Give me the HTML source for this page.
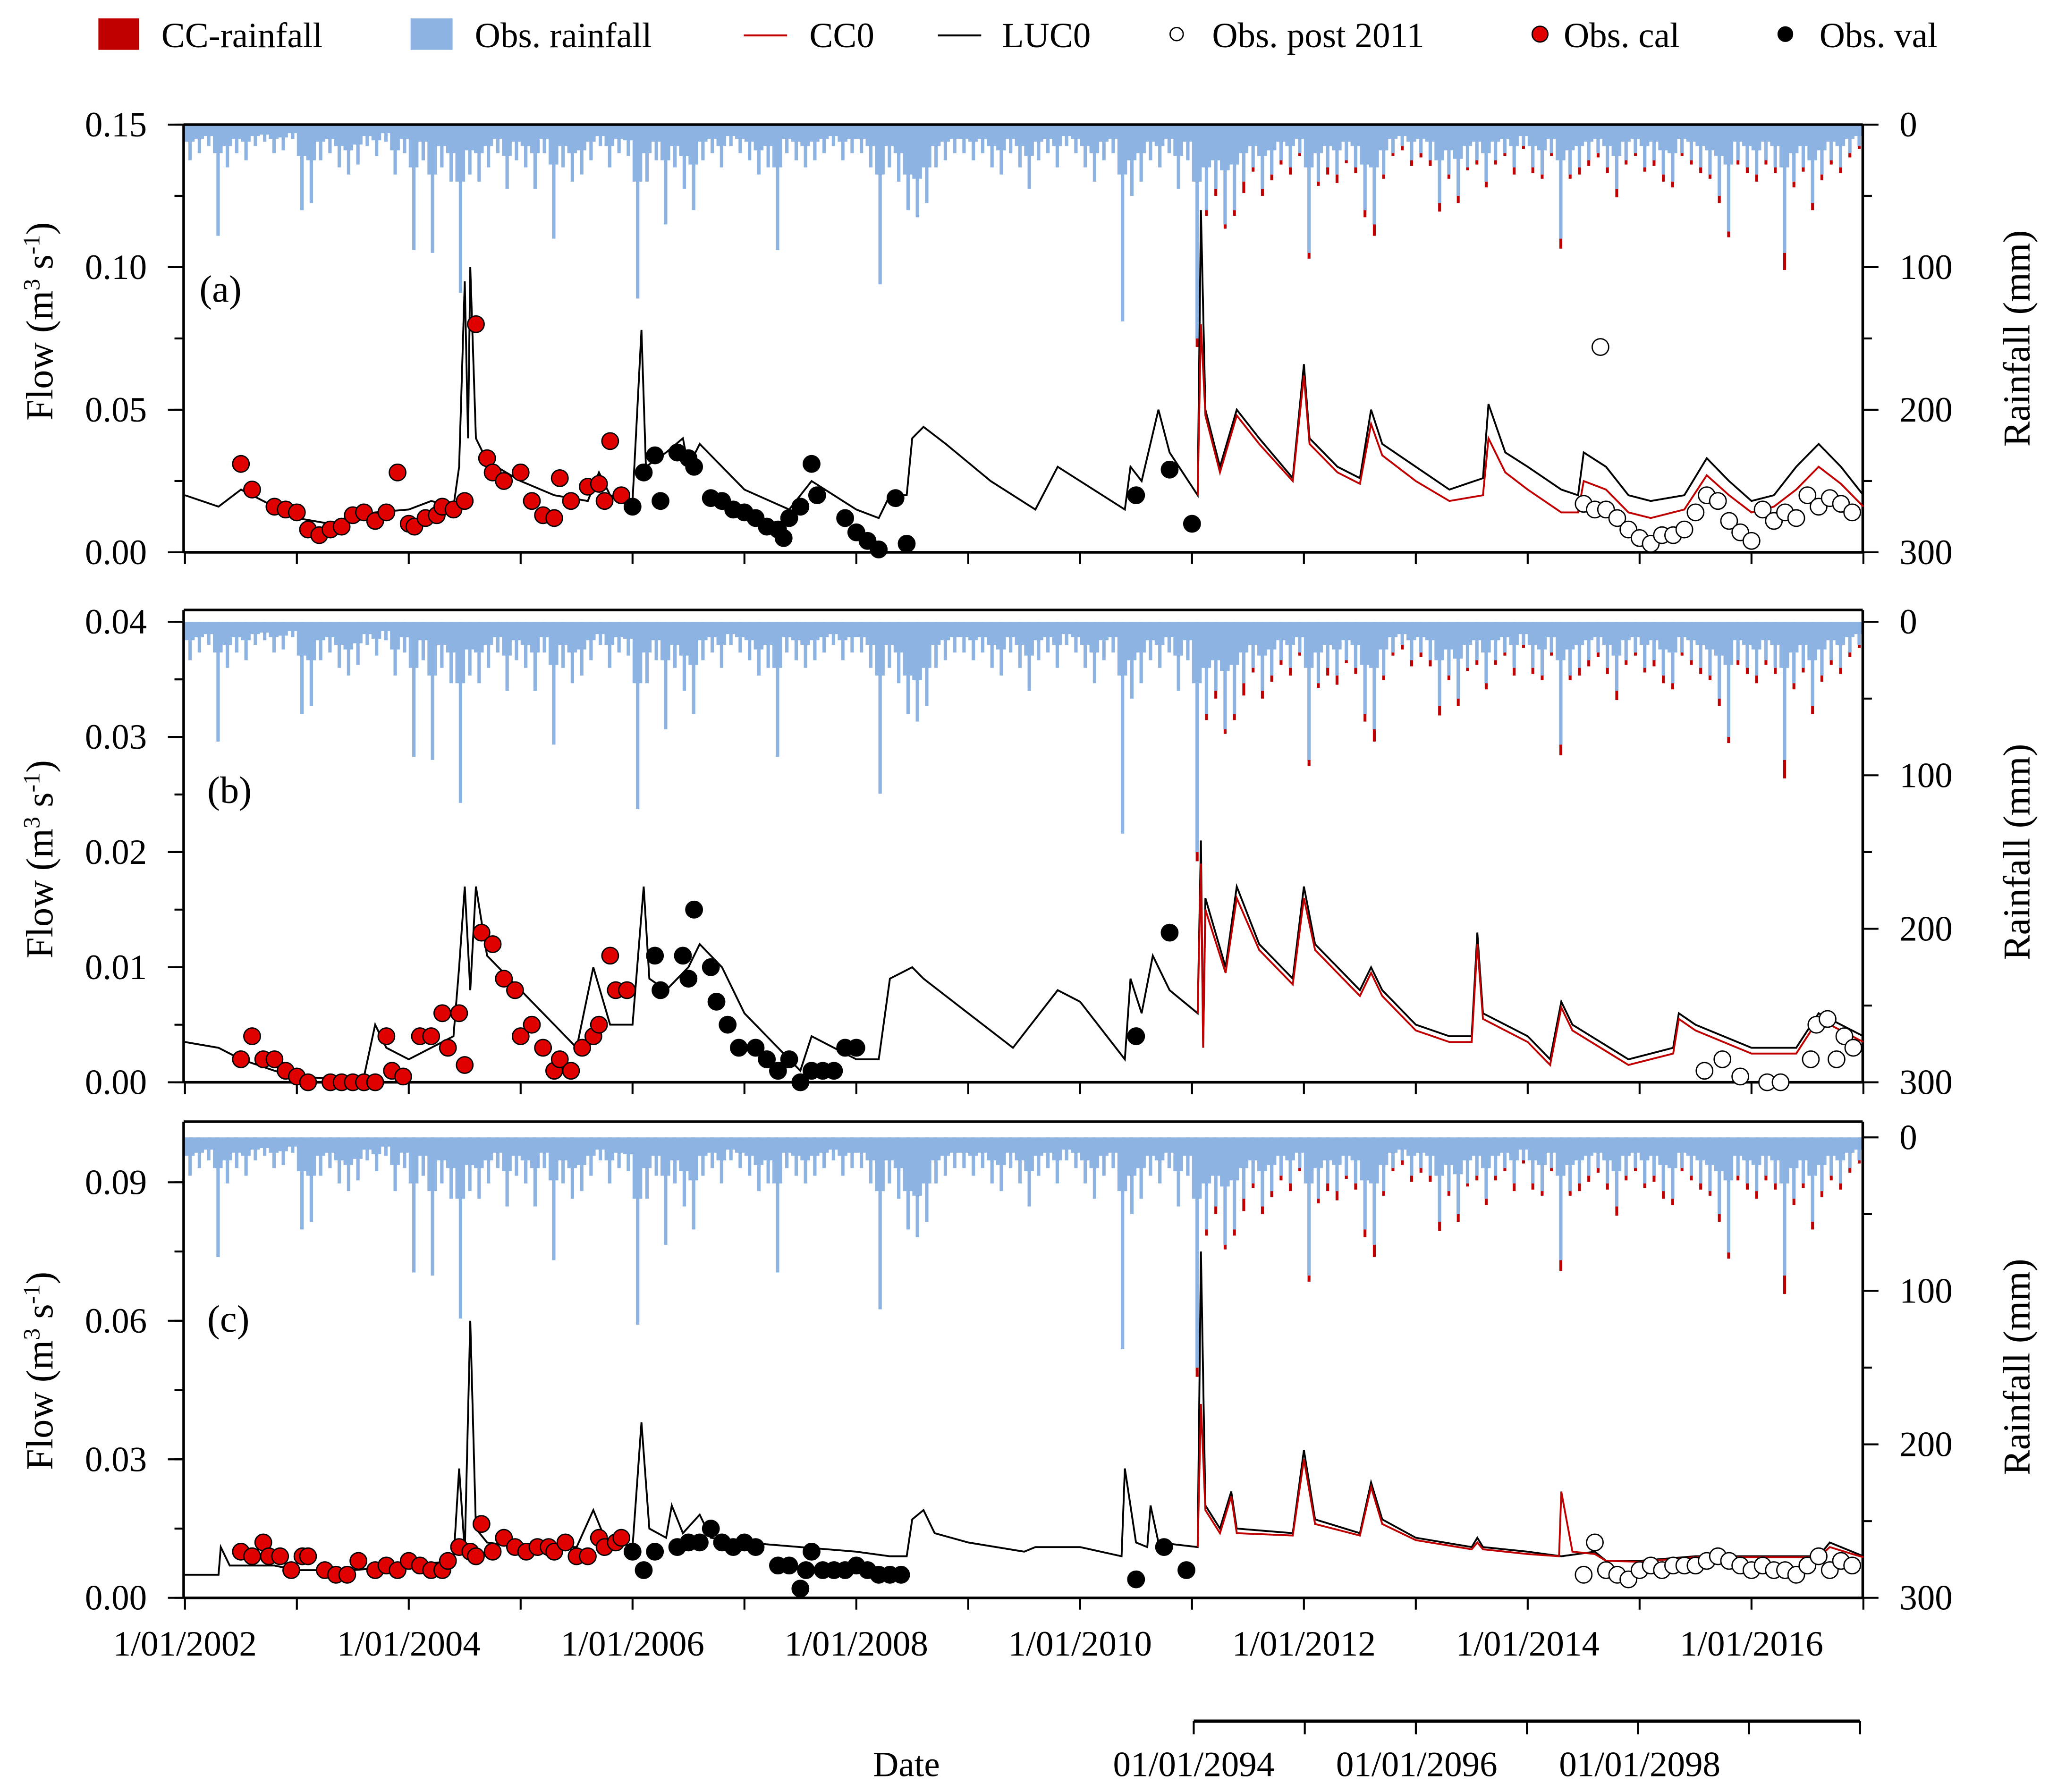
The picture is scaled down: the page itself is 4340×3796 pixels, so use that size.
<!DOCTYPE html>
<html><head><meta charset="utf-8"><style>
html,body{margin:0;padding:0;background:#fff}
svg{display:block}
text{font-family:"Liberation Serif",serif;fill:#000}
</style></head><body>
<svg id="chart" xmlns="http://www.w3.org/2000/svg" width="4340" height="3796" viewBox="0 0 1562 1366" preserveAspectRatio="none">
<g id="legend">
 <rect x="75" y="14" width="31" height="24" fill="#c00000"/>
 <text x="123" y="36" font-size="27">CC-rainfall</text>
 <rect x="313" y="14" width="32" height="24" fill="#8db3e2"/>
 <text x="362" y="36" font-size="27">Obs. rainfall</text>
 <line x1="567" y1="27" x2="600" y2="27" stroke="#c00000" stroke-width="1.5"/>
 <text x="617" y="36" font-size="27">CC0</text>
 <line x1="715" y1="27" x2="748" y2="27" stroke="#000" stroke-width="1.5"/>
 <text x="764" y="36" font-size="27">LUC0</text>
 <circle cx="897" cy="26" r="5" fill="#fff" stroke="#000"/>
 <text x="924" y="36" font-size="27">Obs. post 2011</text>
 <circle cx="1174" cy="26" r="6" fill="#e00000" stroke="#000"/>
 <text x="1192" y="36" font-size="27">Obs. cal</text>
 <circle cx="1361" cy="26" r="6" fill="#000"/>
 <text x="1387" y="36" font-size="27">Obs. val</text>
</g>
<g id="panels"></g>
<g id="xaxis"></g>
</svg>
<script>
// ---------- data ----------
const rainStartYear = 2002;
const rainMonthly = [
25,20,15,78,30,20,25,15,12,20,18,10,
60,55,25,20,30,35,28,15,22,12,35,20,
88,25,90,30,40,118,35,40,30,20,45,25,
30,45,20,80,30,40,35,25,15,30,20,22,
122,40,25,70,30,45,60,25,20,30,15,20,
25,35,30,88,20,25,30,25,20,15,25,20,
20,30,112,30,40,60,65,55,30,25,20,20,
25,20,30,35,20,30,45,25,20,30,15,20,
30,40,25,20,138,50,40,25,30,20,45,25,
150,60,45,70,60,40,30,45,35,25,30,20,
90,40,30,35,25,30,60,70,35,20,15,25,
20,25,55,35,50,30,25,40,25,20,30,15,
30,35,20,80,35,30,25,20,30,45,25,20,
30,25,35,40,20,25,30,35,50,75,25,30,
35,25,30,90,40,30,55,35,25,30,20,15];
const rainTypical = [
12,10,8,20,15,10,12,8,7,10,9,6,
22,25,12,10,15,18,14,8,11,6,18,10,
30,12,35,15,20,40,18,20,15,10,22,12,
15,20,10,28,15,20,18,12,8,15,10,11,
40,20,12,25,15,22,28,12,10,15,8,10,
12,18,15,30,10,12,15,12,10,8,12,10,
10,15,35,15,20,35,38,30,15,12,10,10,
12,10,15,18,10,15,22,12,10,15,8,10,
15,20,12,10,35,25,20,12,15,10,22,12,
40,30,25,32,28,20,15,22,18,12,15,10,
30,20,15,18,12,15,28,30,18,10,8,12,
10,12,25,18,24,15,12,20,12,10,15,8,
15,18,10,25,18,15,12,10,15,22,12,10,
15,12,18,20,10,12,15,18,22,28,12,15,
18,12,15,30,20,15,25,18,12,15,10,8];
const ccRainStartIndex = 108;
const ccRainExtra = [
6,4,5,3,4,8,3,5,4,3,5,2,
4,3,5,6,2,4,5,8,3,2,3,4,
3,4,6,3,5,2,3,4,3,2,5,2,
4,3,2,7,3,5,4,3,4,6,3,2,
3,4,5,4,2,3,4,3,5,4,3,4,
5,3,4,12,4,3,5,4,3,4,3,2];

const aLucYears=[2002.0,2002.3,2002.5,2002.7,2003.0,2003.3,2003.5,2003.7,2004.0,2004.2,2004.4,2004.45,2004.5,2004.53,2004.55,2004.6,2004.7,2005.0,2005.3,2005.6,2005.7,2005.8,2006.0,2006.08,2006.12,2006.3,2006.45,2006.5,2006.6,2007.0,2007.4,2007.6,2008.0,2008.2,2008.3,2008.45,2008.5,2008.6,2008.8,2009.2,2009.6,2009.8,2010.0,2010.4,2010.45,2010.55,2010.7,2010.8,2011.05,2011.08,2011.12,2011.25,2011.4,2011.6,2011.9,2012.0,2012.05,2012.3,2012.5,2012.6,2012.7,2013.0,2013.3,2013.6,2013.65,2013.8,2014.0,2014.3,2014.45,2014.5,2014.7,2014.9,2015.1,2015.4,2015.6,2015.8,2016.0,2016.2,2016.4,2016.6,2016.8,2017.0];
const aLucVals=[0.020,0.016,0.022,0.018,0.012,0.010,0.013,0.014,0.015,0.018,0.016,0.030,0.095,0.040,0.100,0.040,0.032,0.025,0.020,0.018,0.028,0.020,0.018,0.078,0.030,0.035,0.040,0.030,0.038,0.022,0.015,0.025,0.015,0.012,0.020,0.020,0.040,0.044,0.038,0.025,0.015,0.030,0.025,0.015,0.030,0.025,0.050,0.035,0.020,0.120,0.050,0.030,0.050,0.040,0.026,0.066,0.040,0.030,0.026,0.050,0.038,0.030,0.022,0.026,0.052,0.035,0.030,0.022,0.020,0.035,0.030,0.020,0.018,0.020,0.033,0.025,0.018,0.020,0.030,0.038,0.030,0.020];
const aCcYears=[2011.05,2011.08,2011.12,2011.25,2011.4,2011.6,2011.9,2012.0,2012.05,2012.3,2012.5,2012.6,2012.7,2013.0,2013.3,2013.6,2013.65,2013.8,2014.0,2014.3,2014.45,2014.5,2014.7,2014.9,2015.1,2015.4,2015.6,2015.8,2016.0,2016.2,2016.4,2016.6,2016.8,2017.0];
const aCcVals=[0.020,0.080,0.048,0.028,0.048,0.038,0.025,0.062,0.038,0.028,0.024,0.045,0.034,0.025,0.018,0.020,0.040,0.028,0.022,0.014,0.014,0.025,0.022,0.014,0.012,0.015,0.027,0.020,0.014,0.016,0.022,0.030,0.024,0.016];
const aCalYears=[2002.5,2002.6,2002.8,2002.9,2003.0,2003.1,2003.2,2003.3,2003.4,2003.5,2003.6,2003.7,2003.8,2003.9,2004.0,2004.05,2004.15,2004.25,2004.3,2004.4,2004.5,2004.6,2004.7,2004.75,2004.85,2005.0,2005.1,2005.2,2005.3,2005.35,2005.45,2005.6,2005.7,2005.75,2005.8,2005.9];
const aCalVals=[0.031,0.022,0.016,0.015,0.014,0.008,0.006,0.008,0.009,0.013,0.014,0.011,0.014,0.028,0.010,0.009,0.012,0.013,0.016,0.015,0.018,0.080,0.033,0.028,0.025,0.028,0.018,0.013,0.012,0.026,0.018,0.023,0.024,0.018,0.039,0.020];
const aValYears=[2006.0,2006.1,2006.2,2006.25,2006.4,2006.5,2006.55,2006.7,2006.8,2006.9,2007.0,2007.1,2007.2,2007.3,2007.35,2007.4,2007.5,2007.6,2007.65,2007.9,2008.0,2008.1,2008.2,2008.35,2008.45,2010.5,2010.8,2011.0];
const aValVals=[0.016,0.028,0.034,0.018,0.035,0.033,0.030,0.019,0.018,0.015,0.014,0.012,0.009,0.008,0.005,0.012,0.016,0.031,0.020,0.012,0.007,0.004,0.001,0.019,0.003,0.020,0.029,0.010];
const aPostYears=[2014.5,2014.6,2014.65,2014.7,2014.8,2014.9,2015.0,2015.1,2015.2,2015.3,2015.4,2015.5,2015.6,2015.7,2015.8,2015.9,2016.0,2016.1,2016.2,2016.3,2016.4,2016.5,2016.6,2016.7,2016.8,2016.9];
const aPostVals=[0.017,0.015,0.072,0.015,0.012,0.008,0.005,0.003,0.006,0.006,0.008,0.014,0.020,0.018,0.011,0.007,0.004,0.015,0.011,0.014,0.012,0.020,0.016,0.019,0.017,0.014];

const bLucYears=[2002.0,2002.3,2002.5,2002.8,2003.0,2003.5,2003.6,2003.7,2003.8,2004.0,2004.2,2004.4,2004.45,2004.5,2004.55,2004.6,2004.7,2005.0,2005.3,2005.5,2005.65,2005.8,2006.0,2006.1,2006.15,2006.3,2006.5,2006.6,2006.8,2007.0,2007.3,2007.5,2007.6,2007.8,2008.0,2008.2,2008.3,2008.5,2008.6,2009.0,2009.4,2009.8,2010.0,2010.4,2010.45,2010.55,2010.65,2010.8,2011.05,2011.08,2011.1,2011.12,2011.3,2011.4,2011.6,2011.9,2012.0,2012.1,2012.5,2012.6,2012.7,2013.0,2013.3,2013.5,2013.55,2013.6,2014.0,2014.2,2014.3,2014.4,2014.9,2015.3,2015.35,2015.5,2016.0,2016.4,2016.6,2016.8,2017.0];
const bLucVals=[0.0035,0.003,0.002,0.001,0.0005,0.0002,0.0005,0.005,0.003,0.002,0.003,0.004,0.010,0.017,0.008,0.017,0.011,0.008,0.005,0.003,0.010,0.005,0.005,0.017,0.009,0.008,0.010,0.012,0.010,0.006,0.003,0.001,0.004,0.003,0.002,0.002,0.009,0.010,0.009,0.006,0.003,0.008,0.007,0.002,0.009,0.006,0.011,0.008,0.006,0.021,0.003,0.016,0.010,0.017,0.012,0.009,0.017,0.012,0.008,0.010,0.008,0.005,0.004,0.004,0.013,0.006,0.004,0.002,0.007,0.005,0.002,0.003,0.006,0.005,0.003,0.003,0.006,0.005,0.004];
const bCcYears=[2011.05,2011.08,2011.1,2011.12,2011.3,2011.4,2011.6,2011.9,2012.0,2012.1,2012.5,2012.6,2012.7,2013.0,2013.3,2013.5,2013.55,2013.6,2014.0,2014.2,2014.3,2014.4,2014.9,2015.3,2015.35,2015.5,2016.0,2016.4,2016.6,2016.8,2017.0];
const bCcVals=[0.006,0.019,0.003,0.015,0.0095,0.016,0.0115,0.0085,0.016,0.0115,0.0075,0.0095,0.0075,0.0045,0.0035,0.0035,0.012,0.0055,0.0035,0.0015,0.0065,0.0045,0.0015,0.0025,0.0055,0.0045,0.0025,0.0025,0.0055,0.0045,0.0035];
const bCalYears=[2002.5,2002.6,2002.7,2002.8,2002.9,2003.0,2003.1,2003.3,2003.4,2003.5,2003.6,2003.7,2003.8,2003.85,2003.95,2004.1,2004.2,2004.3,2004.35,2004.45,2004.5,2004.65,2004.75,2004.85,2004.95,2005.0,2005.1,2005.2,2005.3,2005.35,2005.45,2005.55,2005.65,2005.7,2005.8,2005.85,2005.95];
const bCalVals=[0.002,0.004,0.002,0.002,0.001,0.0005,0,0,0,0,0,0,0.004,0.001,0.0005,0.004,0.004,0.006,0.003,0.006,0.0015,0.013,0.012,0.009,0.008,0.004,0.005,0.003,0.001,0.002,0.001,0.003,0.004,0.005,0.011,0.008,0.008];
const bValYears=[2006.2,2006.25,2006.45,2006.5,2006.55,2006.7,2006.75,2006.85,2006.95,2007.1,2007.2,2007.3,2007.4,2007.5,2007.6,2007.7,2007.8,2007.9,2008.0,2010.5,2010.8];
const bValVals=[0.011,0.008,0.011,0.009,0.015,0.010,0.007,0.005,0.003,0.003,0.002,0.001,0.002,0,0.001,0.001,0.001,0.003,0.003,0.004,0.013];
const bPostYears=[2015.58,2015.74,2015.9,2016.14,2016.26,2016.53,2016.58,2016.68,2016.76,2016.83,2016.91];
const bPostVals=[0.001,0.002,0.0005,0,0,0.002,0.005,0.0055,0.002,0.004,0.003];

const cLucYears=[2002.0,2002.3,2002.32,2002.4,2002.8,2003.0,2003.5,2004.0,2004.4,2004.45,2004.5,2004.55,2004.6,2004.7,2005.0,2005.5,2005.65,2005.75,2006.0,2006.08,2006.15,2006.3,2006.35,2006.45,2006.6,2006.7,2007.0,2007.5,2008.0,2008.3,2008.45,2008.5,2008.6,2008.7,2009.0,2009.5,2009.6,2010.0,2010.37,2010.4,2010.5,2010.6,2010.63,2010.7,2011.05,2011.08,2011.12,2011.25,2011.35,2011.4,2011.9,2012.0,2012.1,2012.5,2012.6,2012.7,2013.0,2013.5,2013.55,2013.6,2014.0,2014.3,2014.6,2014.7,2015.0,2015.5,2016.0,2016.6,2016.7,2016.9,2017.0];
const cLucVals=[0.005,0.005,0.011,0.007,0.007,0.006,0.006,0.007,0.008,0.028,0.010,0.060,0.015,0.012,0.011,0.011,0.019,0.013,0.011,0.038,0.015,0.013,0.020,0.014,0.018,0.013,0.012,0.011,0.010,0.009,0.009,0.017,0.019,0.014,0.012,0.010,0.011,0.011,0.009,0.028,0.012,0.011,0.020,0.012,0.011,0.075,0.020,0.015,0.023,0.015,0.014,0.032,0.017,0.014,0.025,0.017,0.013,0.011,0.013,0.011,0.010,0.009,0.010,0.008,0.008,0.009,0.009,0.009,0.012,0.010,0.009];
const cCcYears=[2011.05,2011.08,2011.12,2011.25,2011.35,2011.4,2011.9,2012.0,2012.1,2012.5,2012.6,2012.7,2013.0,2013.5,2013.55,2013.6,2014.0,2014.28,2014.3,2014.4,2014.6,2014.7,2015.0,2015.5,2016.0,2016.6,2016.7,2016.9,2017.0];
const cCcVals=[0.011,0.042,0.019,0.014,0.022,0.014,0.0135,0.030,0.016,0.0135,0.024,0.016,0.0125,0.0105,0.012,0.0105,0.0095,0.009,0.023,0.010,0.0095,0.008,0.0078,0.0088,0.0088,0.0088,0.011,0.0095,0.0088];
const cCalYears=[2002.5,2002.6,2002.7,2002.75,2002.85,2002.95,2003.05,2003.1,2003.25,2003.35,2003.45,2003.55,2003.7,2003.8,2003.9,2004.0,2004.1,2004.2,2004.3,2004.35,2004.45,2004.55,2004.6,2004.65,2004.75,2004.85,2004.95,2005.05,2005.15,2005.25,2005.3,2005.4,2005.5,2005.6,2005.7,2005.75,2005.85,2005.9];
const cCalVals=[0.010,0.009,0.012,0.009,0.009,0.006,0.009,0.009,0.006,0.005,0.005,0.008,0.006,0.007,0.006,0.008,0.007,0.006,0.006,0.008,0.011,0.010,0.009,0.016,0.010,0.013,0.011,0.010,0.011,0.011,0.010,0.012,0.009,0.009,0.013,0.011,0.012,0.013];
const cValYears=[2006.0,2006.1,2006.2,2006.4,2006.5,2006.6,2006.7,2006.8,2006.9,2007.0,2007.1,2007.3,2007.4,2007.5,2007.55,2007.6,2007.7,2007.8,2007.9,2008.0,2008.1,2008.2,2008.3,2008.4,2010.5,2010.75,2010.95];
const cValVals=[0.010,0.006,0.010,0.011,0.012,0.012,0.015,0.012,0.011,0.012,0.011,0.007,0.007,0.002,0.006,0.010,0.006,0.006,0.006,0.007,0.006,0.005,0.005,0.005,0.004,0.011,0.006];
const cPostYears=[2014.5,2014.6,2014.7,2014.8,2014.9,2015.0,2015.1,2015.2,2015.3,2015.4,2015.5,2015.6,2015.7,2015.8,2015.9,2016.0,2016.1,2016.2,2016.3,2016.4,2016.5,2016.6,2016.7,2016.8,2016.9];
const cPostVals=[0.005,0.012,0.006,0.005,0.004,0.006,0.007,0.006,0.007,0.007,0.007,0.008,0.009,0.008,0.007,0.006,0.007,0.006,0.006,0.005,0.007,0.009,0.006,0.008,0.007];

const xTickLabels=["1/01/2002","1/01/2004","1/01/2006","1/01/2008","1/01/2010","1/01/2012","1/01/2014","1/01/2016"];
const xTickYears=[2002,2004,2006,2008,2010,2012,2014,2016];
const futureLabels=["01/01/2094","01/01/2096","01/01/2098"];

// ---------- rendering ----------
const NS="http://www.w3.org/2000/svg";
const X0=141, X1=1420, PX_PER_YEAR=85.3;
const xs=y=>X0+(y-2002)*PX_PER_YEAR;
function mk(tag,attrs,parent){const e=document.createElementNS(NS,tag);for(const k in attrs)e.setAttribute(k,attrs[k]);parent.appendChild(e);return e;}
const panelsG=document.getElementById('panels');

const panels=[
 {id:'a',label:'(a)',frameTop:95,yTop:95,yBot:421,fmax:0.15,major:[0,0.05,0.10,0.15],minor:0.025,dec:2,rainTop:95,rainBot:421,lx:152,ly:230,titleY:245,
  luc:[aLucYears,aLucVals],cc:[aCcYears,aCcVals],cal:[aCalYears,aCalVals],val:[aValYears,aValVals],post:[aPostYears,aPostVals]},
 {id:'b',label:'(b)',frameTop:465,yTop:474,yBot:825,fmax:0.04,major:[0,0.01,0.02,0.03,0.04],minor:0.005,dec:2,rainTop:474,rainBot:825,lx:158,ly:612,titleY:655,
  luc:[bLucYears,bLucVals],cc:[bCcYears,bCcVals],cal:[bCalYears,bCalVals],val:[bValYears,bValVals],post:[bPostYears,bPostVals]},
 {id:'c',label:'(c)',frameTop:855,yTop:866,yBot:1218,fmax:0.10,major:[0,0.03,0.06,0.09],minor:0.015,dec:2,rainTop:867,rainBot:1218,lx:158,ly:1015,titleY:1045,
  luc:[cLucYears,cLucVals],cc:[cCcYears,cCcVals],cal:[cCalYears,cCalVals],val:[cValYears,cValVals],post:[cPostYears,cPostVals]}
];

panels.forEach(p=>{
 const g=mk('g',{},panelsG);
 
 
 const fy=v=>p.yBot-(v/p.fmax)*(p.yBot-p.yTop);
 const ry=mm=>p.rainTop+mm/300*(p.rainBot-p.rainTop);
 const rg=mk('g',{},g);
 
 
 const mw=PX_PER_YEAR/12;
 rainMonthly.forEach((mm,i)=>{
  const x0=xs(rainStartYear+i/12);
  const b=mk('rect',{x:x0,y:p.rainTop,width:mw+0.3,height:ry(rainTypical[i])-p.rainTop,fill:'#8db3e2'},rg);
  
  
  const xc=x0+mw*0.55;
  const r=mk('rect',{x:xc-1.3,y:p.rainTop,width:2.6,height:ry(mm)-p.rainTop,fill:'#8db3e2'},rg);
  
  
  const ci=i-ccRainStartIndex;
  if(ci>=0 && ci<ccRainExtra.length){
   const c=mk('rect',{x:xc-1.1,y:ry(mm),width:2.2,height:ry(mm+ccRainExtra[ci])-ry(mm),fill:'#c00000'},rg);
   
   
  }
 });
 const fr=mk('path',{d:`M140 ${p.frameTop} H1420 M140 ${p.frameTop} V${p.yBot} M1420 ${p.frameTop} V${p.yBot} M140 ${p.yBot} H1420`,stroke:'#000','stroke-width':2,fill:'none'},g);
 
 
 for(let v=0;v<=p.fmax+1e-9;v+=p.minor){
  const t=mk('line',{x1:133,x2:140,y1:fy(v),y2:fy(v),stroke:'#000','stroke-width':1.5},g);
  
  
 }
 p.major.forEach(v=>{
  const t=mk('line',{x1:128,x2:140,y1:fy(v),y2:fy(v),stroke:'#000','stroke-width':1.5},g);
  
  
  const tx=mk('text',{x:112,y:fy(v)+9,'font-size':27,'text-anchor':'end'},g);
  tx.textContent=v.toFixed(p.dec);
  
  
 });
 [0,50,100,150,200,250,300].forEach(mm=>{
  const maj=mm%100===0;
  const t=mk('line',{x1:1420,x2:maj?1432:1427,y1:ry(mm),y2:ry(mm),stroke:'#000','stroke-width':1.5},g);
  
  
  if(maj){
   const tx=mk('text',{x:1448,y:ry(mm)+9,'font-size':27},g);
   tx.textContent=String(mm);
   
   
  }
 });
 for(let y=2002;y<=2017;y++){
  const t=mk('line',{x1:xs(y),x2:xs(y),y1:p.yBot,y2:p.yBot+9,stroke:'#000','stroke-width':1.5},g);
  
  
 }
 const pts=(ys,vs)=>ys.map((y,i)=>xs(y).toFixed(1)+','+fy(vs[i]).toFixed(1)).join(' ');
 const ll=mk('polyline',{points:pts(p.luc[0],p.luc[1]),fill:'none',stroke:'#000','stroke-width':1.4},g);
 
 
 const cl=mk('polyline',{points:pts(p.cc[0],p.cc[1]),fill:'none',stroke:'#c00000','stroke-width':1.4},g);
 
 
 const marker=(arr,fill,name)=>arr[0].forEach((y,i)=>{
  const c=mk('circle',{cx:xs(y),cy:fy(arr[1][i]),r:6.3,fill:fill,stroke:'#000','stroke-width':1},g);
  
  
 });
 marker(p.cal,'#e00000','obs-cal-point');
 marker(p.val,'#000','obs-val-point');
 marker(p.post,'#fff','obs-post-2011-point');
 const pl=mk('text',{x:p.lx,y:p.ly,'font-size':29},g);
 pl.textContent=p.label;
 
 
 const yt=mk('text',{x:0,y:0,'font-size':29,'text-anchor':'middle',transform:`translate(40 ${p.titleY}) rotate(-90)`},g);
 yt.innerHTML='Flow (m<tspan font-size="18" dy="-10">3</tspan><tspan dy="10"> s</tspan><tspan font-size="18" dy="-10">-1</tspan><tspan dy="10">)</tspan>';
 
 
 const rt=mk('text',{x:0,y:0,'font-size':29,'text-anchor':'middle',transform:`translate(1547 ${(p.yTop+p.yBot)/2}) rotate(-90)`},g);
 rt.textContent='Rainfall (mm)';
 
 
});

const xg=document.getElementById('xaxis');
xTickLabels.forEach((lab,i)=>{
 const t=mk('text',{x:xs(xTickYears[i]),y:1262,'font-size':27,'text-anchor':'middle'},xg);
 t.textContent=lab;
 
 
});
const fa=mk('line',{x1:910,x2:1418,y1:1312,y2:1312,stroke:'#000','stroke-width':2.5},xg);


for(let k=0;k<7;k++){
 const x=910+k*(1418-910)/6;
 const t=mk('line',{x1:x,x2:x,y1:1312,y2:1322,stroke:'#000','stroke-width':1.5},xg);
 
 
}
futureLabels.forEach((lab,i)=>{
 const t=mk('text',{x:910+i*170,y:1354,'font-size':27,'text-anchor':'middle'},xg);
 t.textContent=lab;
 
 
});
const dt=mk('text',{x:691,y:1354,'font-size':27,'text-anchor':'middle'},xg);
dt.textContent='Date';


</script>
</body></html>
